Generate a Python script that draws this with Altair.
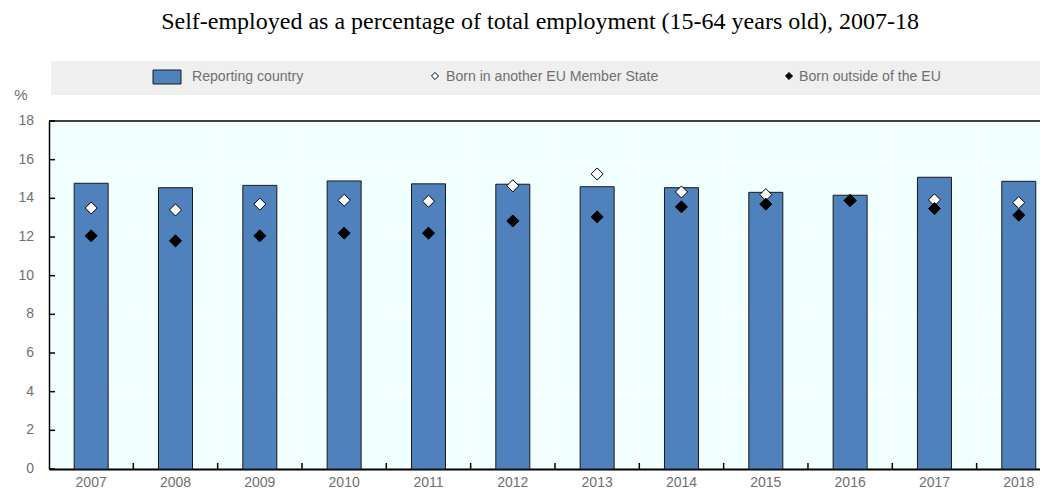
import altair as alt
import pandas as pd

years = ["2007", "2008", "2009", "2010", "2011", "2012", "2013", "2014", "2015", "2016", "2017", "2018"]
reporting = [14.78, 14.55, 14.67, 14.9, 14.75, 14.73, 14.6, 14.55, 14.31, 14.16, 15.09, 14.88]
born_eu = [13.5, 13.4, 13.7, 13.9, 13.85, 14.65, 15.26, 14.33, 14.19, 13.9, 13.92, 13.78]
born_non_eu = [12.06, 11.8, 12.06, 12.2, 12.2, 12.83, 13.04, 13.56, 13.7, 13.88, 13.47, 13.13]
y_ticks = [0, 2, 4, 6, 8, 10, 12, 14, 16, 18]

title_text = "Self-employed as a percentage of total employment (15-64 years old), 2007-18"
legend_labels = ["Reporting country", "Born in another EU Member State", "Born outside of the EU"]
unit_label = "%"

df = pd.DataFrame({"year": years, "idx": list(range(len(years))),
                   "reporting": reporting, "eu": born_eu, "noneu": born_non_eu})
ticks_df = pd.DataFrame({"v": y_ticks, "lab": [str(v) for v in y_ticks]})
one = pd.DataFrame({"k": [0]})

W = 991          # visible plot width (page is cut at the right edge)
H = 348
STEP = 84.33     # pixel width of one year slot
LABEL_FONT = "Liberation Sans"
GREY = "#6f6f6f"
BAR_BLUE = "#4f81bd"

xs = alt.Scale(domain=[-0.5, -0.5 + W / STEP], nice=False, zero=False, padding=0)
ys = alt.Scale(domain=[0, 18], nice=False, padding=0)

# vertical white grid lines at slot boundaries (drawn first, under the bars)
vgrid = alt.Chart(df).transform_calculate(b="datum.idx + 0.5").mark_rule(
    color="white", strokeWidth=1).encode(
    x=alt.X("b:Q", scale=xs),
    y=alt.value(0), y2=alt.value(H),
)

bars = alt.Chart(df).mark_bar(size=34, color=BAR_BLUE, stroke="#1a1a1a", strokeWidth=1).encode(
    x=alt.X("idx:Q", scale=xs,
            axis=alt.Axis(title=None, labels=False, ticks=False, grid=False,
                          domainColor="black", domainWidth=2)),
    y=alt.Y("reporting:Q", scale=ys,
            axis=alt.Axis(title=None, values=y_ticks, ticks=False, grid=True, labels=False,
                          gridColor="white", gridWidth=1,
                          domainColor="black", domainWidth=1.5)),
)

eu_pts = alt.Chart(df).mark_point(shape="diamond", filled=True, fill="white", stroke="black",
                                  strokeWidth=1, size=145, opacity=1).encode(
    x=alt.X("idx:Q", scale=xs),
    y=alt.Y("eu:Q", scale=ys),
)

noneu_pts = alt.Chart(df).mark_point(shape="diamond", filled=True, fill="black", stroke="black",
                                     strokeWidth=1, size=145, opacity=1).encode(
    x=alt.X("idx:Q", scale=xs),
    y=alt.Y("noneu:Q", scale=ys),
)

# year labels
x_labels = alt.Chart(df).mark_text(font=LABEL_FONT, fontSize=14, color=GREY,
                                   align="center", baseline="middle").encode(
    x=alt.X("idx:Q", scale=xs),
    y=alt.value(H + 14),
    text="year:N",
)

# inward tick marks
x_ticks = alt.Chart(df).transform_calculate(b="datum.idx + 0.5").mark_rule(
    color="black", strokeWidth=1.5).encode(
    x=alt.X("b:Q", scale=xs),
    y=alt.value(H - 6),
    y2=alt.value(H),
)
y_tick_rules = alt.Chart(ticks_df).mark_rule(color="black", strokeWidth=1.5).encode(
    y=alt.Y("v:Q", scale=ys),
    x=alt.value(0),
    x2=alt.value(6),
)
y_labels = alt.Chart(ticks_df).mark_text(font=LABEL_FONT, fontSize=14, color=GREY,
                                        align="right", baseline="middle").encode(
    y=alt.Y("v:Q", scale=ys),
    x=alt.value(-15),
    text="lab:N",
)
top_border = alt.Chart(one).mark_rule(color="black", strokeWidth=1.5).encode(
    x=alt.value(0), x2=alt.value(W), y=alt.value(0)
)

# title and unit label
title = alt.Chart(one).mark_text(text=title_text, font="Liberation Serif", fontSize=24,
                                 color="black", align="center", baseline="middle").encode(
    x=alt.value(491), y=alt.value(-99)
)
unit = alt.Chart(one).mark_text(text=unit_label, font=LABEL_FONT, fontSize=15, color=GREY,
                                align="center", baseline="middle").encode(
    x=alt.value(-28), y=alt.value(-26)
)

# legend
leg_bg = alt.Chart(one).mark_rect(color="#efefef").encode(
    x=alt.value(2), x2=alt.value(W), y=alt.value(-60), y2=alt.value(-26)
)
leg_swatch = alt.Chart(one).mark_rect(color=BAR_BLUE, stroke="#1a1a1a", strokeWidth=1).encode(
    x=alt.value(104), x2=alt.value(132), y=alt.value(-51), y2=alt.value(-37)
)
leg_t1 = alt.Chart(one).mark_text(text=legend_labels[0], font=LABEL_FONT, fontSize=14.1, color=GREY,
                                  align="left", baseline="middle").encode(
    x=alt.value(143), y=alt.value(-44)
)
leg_d1 = alt.Chart(one).mark_point(shape="diamond", filled=True, fill="white", stroke="black",
                                   strokeWidth=1, size=50, opacity=1).encode(
    x=alt.value(386), y=alt.value(-45)
)
leg_t2 = alt.Chart(one).mark_text(text=legend_labels[1], font=LABEL_FONT, fontSize=14.1, color=GREY,
                                  align="left", baseline="middle").encode(
    x=alt.value(397), y=alt.value(-44)
)
leg_d2 = alt.Chart(one).mark_point(shape="diamond", filled=True, fill="black", stroke="black",
                                   strokeWidth=1, size=50, opacity=1).encode(
    x=alt.value(740), y=alt.value(-45)
)
leg_t3 = alt.Chart(one).mark_text(text=legend_labels[2], font=LABEL_FONT, fontSize=14.1, color=GREY,
                                  align="left", baseline="middle").encode(
    x=alt.value(750), y=alt.value(-44)
)

chart = alt.layer(
    vgrid, bars, eu_pts, noneu_pts, x_labels, x_ticks, y_tick_rules, y_labels, top_border,
    title, unit, leg_bg, leg_swatch, leg_t1, leg_d1, leg_t2, leg_d2, leg_t3,
).properties(
    width=W, height=H,
    autosize=alt.AutoSizeParams(type="none"),
    padding={"left": 41, "top": 113, "right": 0, "bottom": 21},
).configure_view(
    stroke=None, fill="#f2ffff"
)

chart.save("out.html", embed_options={"renderer": "svg", "actions": False})
